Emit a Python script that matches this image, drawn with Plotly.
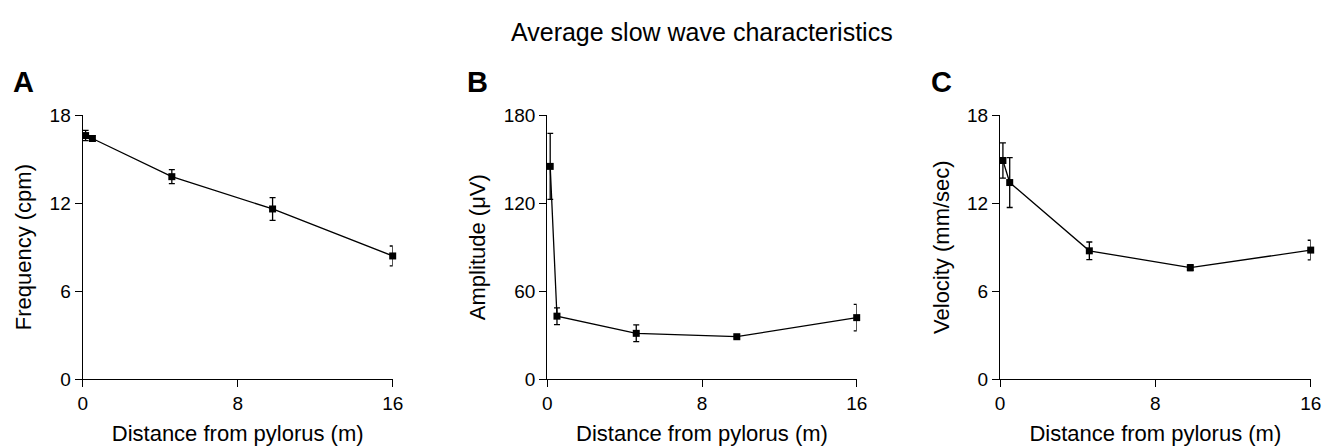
import plotly.graph_objects as go

# Data
distance = [0.15, 0.5, 4.6, 9.8, 16.0]

frequency = [16.6, 16.4, 13.8, 11.6, 8.4]
frequency_err = [0.35, 0.2, 0.48, 0.77, 0.68]

amplitude = [145.0, 43.0, 31.3, 29.0, 42.0]
amplitude_err = [22.5, 5.7, 5.7, 1.0, 9.0]

velocity = [14.9, 13.4, 8.75, 7.6, 8.8]
velocity_err = [1.2, 1.7, 0.6, 0.2, 0.67]

x_ticks = [0, 8, 16]
freq_ticks = [0, 6, 12, 18]
amp_ticks = [0, 60, 120, 180]
vel_ticks = [0, 6, 12, 18]

FONT = "Liberation Sans"
TICK_FS = 19
TITLE_FS = 22

W, H = 1323, 446

fig = go.Figure()

panels = [
    ("x", "y", frequency, frequency_err),
    ("x2", "y2", amplitude, amplitude_err),
    ("x3", "y3", velocity, velocity_err),
]
for xa, ya, vals, errs in panels:
    fig.add_trace(go.Scatter(
        x=distance, y=vals, xaxis=xa, yaxis=ya,
        mode="lines+markers",
        line=dict(color="black", width=1.3),
        marker=dict(symbol="square", size=7, color="black"),
        error_y=dict(type="data", array=errs, visible=True,
                     color="black", thickness=1.3, width=3),
        cliponaxis=False, showlegend=False,
    ))

ydom = [1 - 379.3 / H, 1 - 115 / H]
xdoms = [[82.7 / W, 392.7 / W], [547.3 / W, 856.7 / W], [1000 / W, 1310.7 / W]]
ytitles = ["Frequency (cpm)", "Amplitude (\u03bcV)", "Velocity (mm/sec)"]
yranges = [[0, 18], [0, 180], [0, 18]]
yticks = [freq_ticks, amp_ticks, vel_ticks]

axis_common = dict(
    showline=True, linecolor="black", linewidth=1.3,
    ticks="outside", ticklen=7, tickwidth=1.3, tickcolor="black",
    showgrid=False, zeroline=False, automargin=False,
    tickfont=dict(family=FONT, size=TICK_FS, color="black"),
)

layout = dict(
    width=W, height=H,
    margin=dict(l=0, r=0, t=0, b=0),
    paper_bgcolor="white", plot_bgcolor="white",
    font=dict(family=FONT, size=TICK_FS, color="black"),
    showlegend=False,
)
for i in range(3):
    sx = "" if i == 0 else str(i + 1)
    layout["xaxis" + sx] = dict(
        domain=xdoms[i], range=[0, 16], tickvals=x_ticks,
        anchor="y" + sx,
        title=dict(text="Distance from pylorus (m)", standoff=14,
                   font=dict(family=FONT, size=TITLE_FS, color="black")),
        **axis_common,
    )
    layout["yaxis" + sx] = dict(
        domain=ydom, range=yranges[i], tickvals=yticks[i],
        anchor="x" + sx,
        title=dict(text=ytitles[i], standoff=11,
                   font=dict(family=FONT, size=TITLE_FS, color="black")),
        **axis_common,
    )
fig.update_layout(**layout)

fig.add_annotation(text="Average slow wave characteristics", x=702 / W, y=1 - 32 / H,
                   xref="paper", yref="paper", showarrow=False,
                   xanchor="center", yanchor="middle",
                   font=dict(family=FONT, size=25, color="black"))

for letter, xpx in [("A", 23), ("B", 477.5), ("C", 941.5)]:
    fig.add_annotation(text="<b>" + letter + "</b>", x=xpx / W, y=1 - 82 / H,
                       xref="paper", yref="paper", showarrow=False,
                       xanchor="center", yanchor="middle",
                       font=dict(family=FONT, size=29, color="black"))

# remove the default page margin so the figure fills the window exactly
fig.write_html(
    "out.html",
    config={"displayModeBar": False},
    post_script="document.body.style.margin='0';document.body.style.overflow='hidden';",
)
